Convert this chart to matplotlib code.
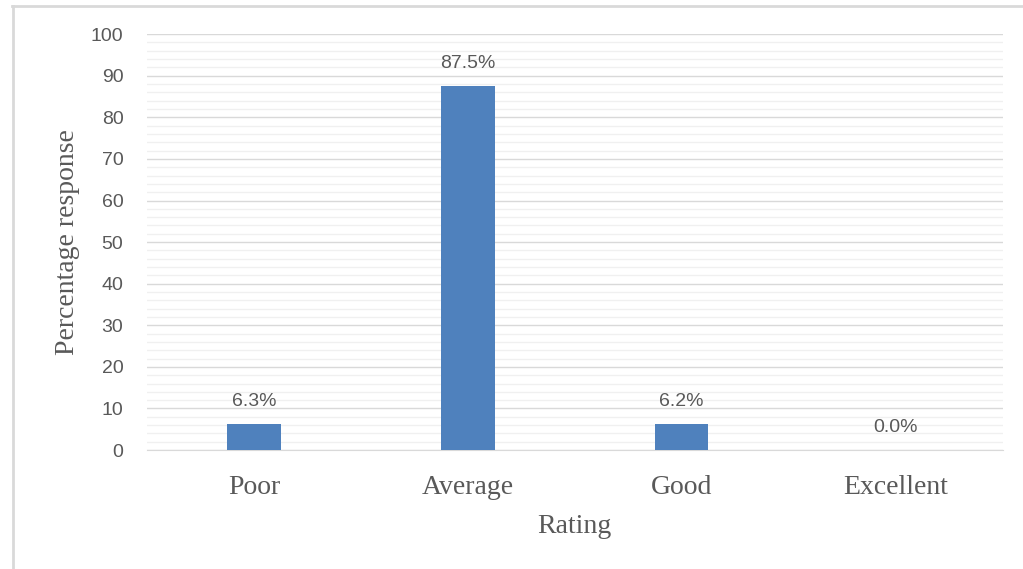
import matplotlib.pyplot as plt
from matplotlib.lines import Line2D
from matplotlib.ticker import MultipleLocator

ratings = ['Poor', 'Average', 'Good', 'Excellent']
percent = [6.3, 87.5, 6.2, 0.0]

BAR_COLOR = '#4f81bd'
TEXT_GREY = '#595959'

fig = plt.figure(figsize=(10.23, 5.69), dpi=100)
ax = fig.add_axes([0.1437, 0.209, 0.8363, 0.731])

x = range(len(ratings))
bars = ax.bar(x, percent, width=0.25, color=BAR_COLOR, zorder=3)

for rect, val in zip(bars, percent):
    ax.annotate(f'{val:.1f}%', (rect.get_x() + rect.get_width() / 2, val),
                xytext=(0, 10), textcoords='offset points', ha='center', va='bottom',
                fontsize=14, color=TEXT_GREY, family='Liberation Sans')

ax.set_xlim(-0.5, len(ratings) - 0.5)
ax.set_ylim(0, 100)
ax.yaxis.set_major_locator(MultipleLocator(10))
ax.yaxis.set_minor_locator(MultipleLocator(2))
ax.grid(axis='y', which='major', color='#d9d9d9', linewidth=1.0, zorder=0)
ax.grid(axis='y', which='minor', color='#f0f0f0', linewidth=1.0, zorder=0)
ax.set_axisbelow(True)

for side in ['top', 'right', 'left']:
    ax.spines[side].set_visible(False)
ax.spines['bottom'].set_color('#d9d9d9')

ax.tick_params(axis='both', which='both', length=0)
ax.tick_params(axis='y', pad=17, labelsize=14, labelcolor=TEXT_GREY)
ax.tick_params(axis='x', pad=18)
for lbl in ax.get_yticklabels():
    lbl.set_family('Liberation Sans')

ax.set_xticks(list(x))
ax.set_xticklabels(ratings, fontsize=20, color=TEXT_GREY, family='Liberation Serif')

ax.set_xlabel('Rating', fontsize=20, color=TEXT_GREY, family='Liberation Serif', labelpad=10)
ax.set_ylabel('Percentage response', fontsize=20, color=TEXT_GREY, family='Liberation Serif', labelpad=8)

# light frame: only top and left edges show in the crop
frame = dict(transform=fig.transFigure, color='#d9d9d9', linewidth=2)
fig.lines.append(Line2D([12 / 1023, 1.0], [1 - 6 / 569] * 2, **frame))
fig.lines.append(Line2D([13 / 1023] * 2, [0.0, 1 - 6 / 569], **frame))

fig.savefig('out.png', dpi=100)
plt.close(fig)
